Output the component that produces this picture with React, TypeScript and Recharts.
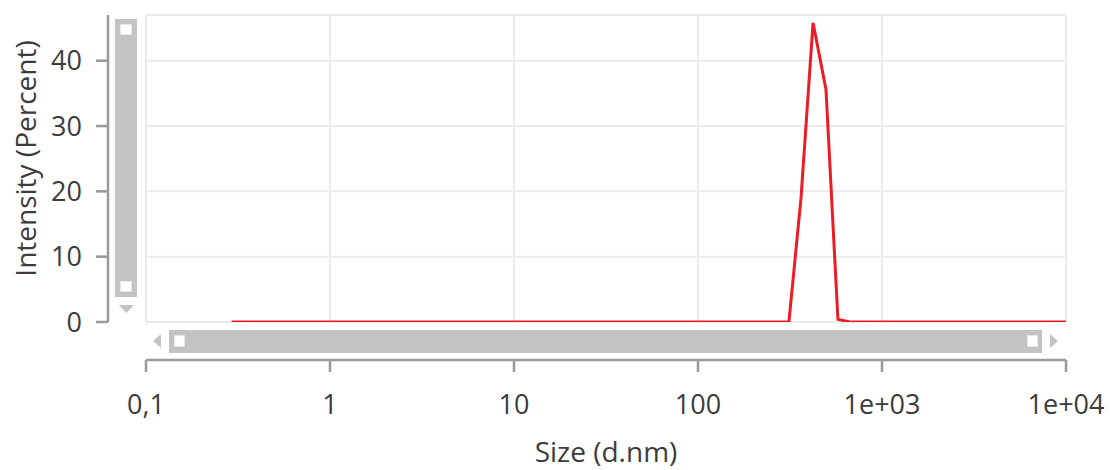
import React from 'react';
import { LineChart, Line, XAxis, YAxis, CartesianGrid } from 'recharts';

// size classes (d.nm) and intensity (%)
const sizes = [0.292, 312, 363, 422, 496, 576, 670, 10000];
const intensity = [0, 0, 19, 45.8, 35.6, 0.4, 0, 0];

const xTicks = [0.1, 1, 10, 100, 1000, 10000];
const xTickLabels = ['0,1', '1', '10', '100', '1e+03', '1e+04'];
const yTicks = [0, 10, 20, 30, 40];

const data = sizes.map((s, i) => ({ size: s, value: intensity[i] }));

const FONT = '"Open Sans", "Noto Sans", sans-serif';
const TEXT = '#3c3c3c';
const AXIS = '#9a9a9a';
const GRID = '#ebebeb';
const BAR = '#c3c3c3';

const fmtX = (v: number) => {
  const i = xTicks.indexOf(v);
  return i >= 0 ? xTickLabels[i] : String(v);
};

const YTitle = (props: any) => {
  const vb = props.viewBox || {};
  const cx = vb.x + 25;
  const cy = vb.y + vb.height / 2 - 10;
  return (
    <text
      x={cx}
      y={cy}
      transform={`rotate(-90, ${cx}, ${cy})`}
      textAnchor="middle"
      dominantBaseline="central"
      fill={TEXT}
      fontSize={28}
      fontFamily={FONT}
    >
      Intensity (Percent)
    </text>
  );
};

const XTitle = (props: any) => {
  const vb = props.viewBox || {};
  return (
    <text
      x={vb.x + vb.width / 2}
      y={vb.y + 102}
      textAnchor="middle"
      fill={TEXT}
      fontSize={28}
      fontFamily={FONT}
    >
      Size (d.nm)
    </text>
  );
};

// the scrollbar chrome drawn by the original software
function Scrollbars() {
  return (
    <svg
      width={1110}
      height={470}
      style={{ position: 'absolute', left: 0, top: 0, pointerEvents: 'none' }}
    >
      {/* vertical */}
      <rect x={115} y={19} width={22} height={278} fill={BAR} />
      <rect x={120.5} y={24.5} width={11} height={10} fill="#fff" stroke="#e6e6e6" />
      <rect x={120.5} y={281.5} width={11} height={10} fill="#fff" stroke="#e6e6e6" />
      <polygon points="119,305 134,305 126.5,313" fill={BAR} />
      {/* horizontal */}
      <rect x={169} y={330} width={873} height={23} fill={BAR} />
      <rect x={174.5} y={335.5} width={10} height={11} fill="#fff" stroke="#e6e6e6" />
      <rect x={1027.5} y={335.5} width={10} height={11} fill="#fff" stroke="#e6e6e6" />
      <polygon points="161,334 161,348 153,341" fill={BAR} />
      <polygon points="1050,334 1050,348 1058,341" fill={BAR} />
    </svg>
  );
}

export default function App() {
  return (
    <div style={{ position: 'fixed', left: 0, top: 0, width: 1110, height: 470, background: '#fff' }}>
      <LineChart width={1110} height={470} data={data} margin={{ top: 15, right: 44, bottom: 0, left: 0 }}>
        <CartesianGrid
          xAxisId="main"
          yAxisId="main"
          stroke={GRID}
          strokeWidth={2}
        />
        <XAxis
          xAxisId="gap"
          dataKey="size"
          type="number"
          scale="log"
          domain={[0.1, 10000]}
          ticks={xTicks}
          height={38}
          tick={false}
          axisLine={false}
          tickLine={false}
          allowDataOverflow
        />
        <XAxis
          xAxisId="main"
          dataKey="size"
          type="number"
          scale="log"
          domain={[0.1, 10000]}
          ticks={xTicks}
          tickFormatter={fmtX}
          interval={0}
          height={110}
          tickSize={12}
          tickMargin={23}
          tick={{ fill: TEXT, fontSize: 27, fontFamily: FONT }}
          axisLine={{ stroke: AXIS, strokeWidth: 2.5 }}
          tickLine={{ stroke: AXIS, strokeWidth: 2.5 }}
          allowDataOverflow
          label={<XTitle />}
        />
        <YAxis
          yAxisId="gap"
          type="number"
          domain={[0, 47]}
          ticks={yTicks}
          width={38}
          tick={false}
          axisLine={false}
          tickLine={false}
          allowDataOverflow
        />
        <YAxis
          yAxisId="main"
          type="number"
          domain={[0, 47]}
          ticks={yTicks}
          interval={0}
          width={108}
          tickSize={12}
          tickMargin={14}
          tick={{ fill: TEXT, fontSize: 27, fontFamily: FONT }}
          axisLine={{ stroke: AXIS, strokeWidth: 2.5 }}
          tickLine={{ stroke: AXIS, strokeWidth: 2.5 }}
          allowDataOverflow
          label={<YTitle />}
        />
        <Line
          xAxisId="main"
          yAxisId="main"
          type="linear"
          dataKey="value"
          stroke="#ec1c24"
          strokeWidth={3}
          dot={false}
          isAnimationActive={false}
        />
      </LineChart>
      <Scrollbars />
    </div>
  );
}
